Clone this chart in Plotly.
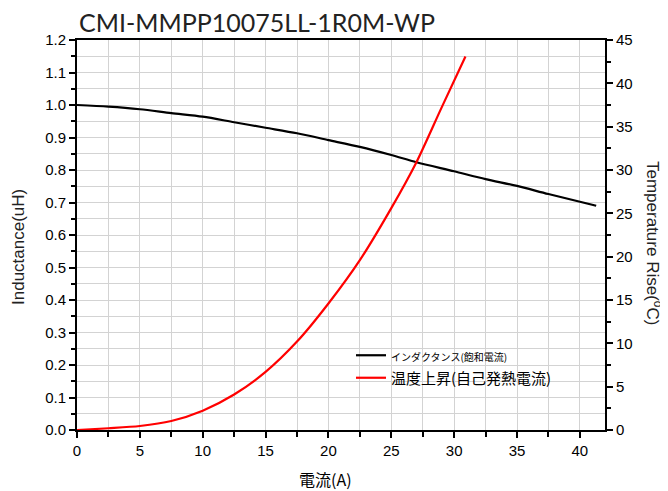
import plotly.graph_objects as go

# Data
current_L = [0, 2.5, 5, 7.5, 10, 12.5, 15, 17.5, 20, 22.5, 25, 27, 30, 32.5, 35, 37.5, 41.3]
inductance = [1.0, 0.995, 0.987, 0.975, 0.964, 0.947, 0.930, 0.913, 0.892, 0.871, 0.846,
              0.824, 0.796, 0.772, 0.751, 0.726, 0.690]
current_T = [0, 2.5, 5, 7.5, 10, 12.5, 15, 17.5, 20, 22.5, 25, 27, 29, 30.9]
temp_rise = [0, 0.2, 0.46, 1.04, 2.23, 4.1, 6.7, 10.2, 14.6, 19.6, 25.6, 30.9, 37.2, 43.1]

name_L = 'インダクタンス(飽和電流)'
name_T = '温度上昇(自己発熱電流)'
title_text = 'CMI-MMPP10075LL-1R0M-WP'

OFF = 8  # page body margin
W, H = 668 - OFF, 491 - OFF
L, R, T, B = 77 - OFF, 63, 40 - OFF, 61
pw = W - L - R
ph = H - T - B


def px(xp):
    return (xp - OFF - L) / pw


def py(yp):
    return (H - B - (yp - OFF)) / ph


fig = go.Figure()
fig.add_trace(go.Scatter(x=current_L, y=inductance, mode='lines',
                         line=dict(color='black', width=2.2, shape='spline', smoothing=0.8),
                         name='<span style="font-size:10px">' + name_L + '</span>', yaxis='y'))
fig.add_trace(go.Scatter(x=current_T, y=temp_rise, mode='lines',
                         line=dict(color='#ff0000', width=2.2, shape='spline', smoothing=0.8),
                         name=name_T, yaxis='y2'))

tickfont = dict(family='Liberation Sans, Arial, sans-serif', size=15, color='black')
grid = '#d3d3d3'

fig.update_layout(
    width=W, height=H,
    margin=dict(l=L, r=R, t=T, b=B, autoexpand=False),
    paper_bgcolor='white', plot_bgcolor='white',
    showlegend=True,
    legend=dict(x=px(351), y=py(339), xanchor='left', yanchor='top',
                bgcolor='rgba(0,0,0,0)', borderwidth=0,
                font=dict(family='Noto Sans CJK JP, sans-serif', size=15, color='black'),
                tracegroupgap=0),
    xaxis=dict(range=[0, 42], dtick=5, tick0=0, showgrid=True, gridcolor=grid, gridwidth=1,
               minor=dict(dtick=2.5, showgrid=True, gridcolor=grid, ticks='outside', ticklen=5, tickcolor='black'),
               ticks='outside', ticklen=6, tickwidth=1.5, tickcolor='black',
               showline=True, linecolor='black', linewidth=2, mirror=True,
               tickfont=tickfont, zeroline=False, automargin=False),
    yaxis=dict(range=[0, 1.2], dtick=0.1, tick0=0, tickformat='.1f', showgrid=True, gridcolor=grid, gridwidth=1,
               minor=dict(dtick=0.05, showgrid=True, gridcolor=grid, ticks='outside', ticklen=4, tickcolor='black'),
               ticks='outside', ticklen=6, tickwidth=1.5, tickcolor='black',
               showline=True, linecolor='black', linewidth=2,
               tickfont=tickfont, zeroline=False, automargin=False),
    yaxis2=dict(range=[0, 45], dtick=5, tick0=0, overlaying='y', side='right', showgrid=False,
                minor=dict(dtick=2.5, ticks='outside', ticklen=4, tickcolor='black', showgrid=False),
                ticks='outside', ticklen=6, tickwidth=1.5, tickcolor='black',
                showline=True, linecolor='black', linewidth=2,
                tickfont=tickfont, zeroline=False, automargin=False),
)

fig.add_annotation(text=title_text, x=px(77), y=py(22), xref='paper', yref='paper', xanchor='left', yanchor='middle',
                   showarrow=False, font=dict(family='Lato, sans-serif', size=25, color='#222222'))
fig.add_annotation(text='電流(A)', x=px(325), y=py(479), xref='paper', yref='paper', xanchor='center', yanchor='middle',
                   showarrow=False, font=dict(family='Noto Sans CJK JP, sans-serif', size=16, color='black'))
fig.add_annotation(text='Inductance(uH)', x=px(18), y=py(247), xref='paper', yref='paper', xanchor='center', yanchor='middle',
                   textangle=-90, showarrow=False, font=dict(family='Liberation Sans, Arial, sans-serif', size=17, color='#222222'))
fig.add_annotation(text='Temperature Rise(<sup>o</sup>C)', x=px(654), y=py(243), xref='paper', yref='paper',
                   xanchor='center', yanchor='middle', textangle=90, showarrow=False,
                   font=dict(family='Liberation Sans, Arial, sans-serif', size=17, color='#222222'))

fig.write_html('out.html')
